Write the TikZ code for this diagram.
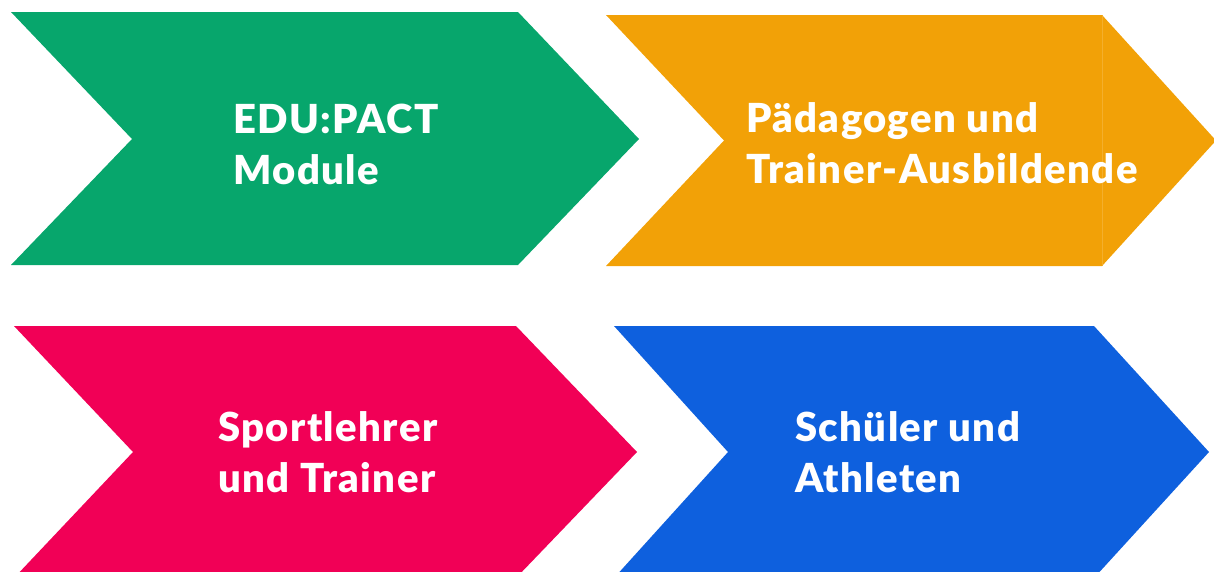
\documentclass[tikz,border=0pt]{standalone}
\usepackage{fontspec}
\setmainfont{Lato}[BoldFont={Lato Black},BoldFeatures={LetterSpace=3.5}]
\definecolor{eduGreen}{RGB}{7,166,108}
\definecolor{eduOrange}{RGB}{242,161,7}
\definecolor{eduPink}{RGB}{241,0,86}
\definecolor{eduBlue}{RGB}{14,96,222}
\tikzset{
  label/.style={anchor=base west,inner sep=0pt,align=left,text=white,
    font=\bfseries\fontsize{40}{51}\selectfont},
}
\begin{document}
\begin{tikzpicture}[x=1pt,y=-1pt]
      \useasboundingbox (0,0) rectangle (1214,571);
      \clip (0,0) rectangle (1214,571);
      % left x / top / middle / bottom / notch x / right x / tip x / colour
      \foreach \l/\t/\m/\b/\n/\r/\p/\c in {
          11/12/139/265/132/518/639/eduGreen,
          606/15/140.5/266/724/1102/1216/eduOrange,
          14/326/452/578/133/516/637/eduPink,
          614/326/452/578/728/1094/1209/eduBlue} {
          \fill[\c] (\l,\t) -- (\r,\t) -- (\p,\m) -- (\r,\b) -- (\l,\b)
            -- (\n,\m) -- cycle;
        }
      \draw[eduOrange!85!white,very thin] (1102,15) -- (1102,266);
      % base anchor sits on the last line
      \node[label] (modul) at (233,184) {EDU:PACT\\Module};
      \node[label] (paed) at (746,183) {Pädagogen und\\Trainer-Ausbildende};
      \node[label] (lehrer) at (218,492) {Sportlehrer\\und Trainer};
      \node[label] (schueler) at (795,492) {Schüler und\\Athleten};
    \end{tikzpicture}
\end{document}
